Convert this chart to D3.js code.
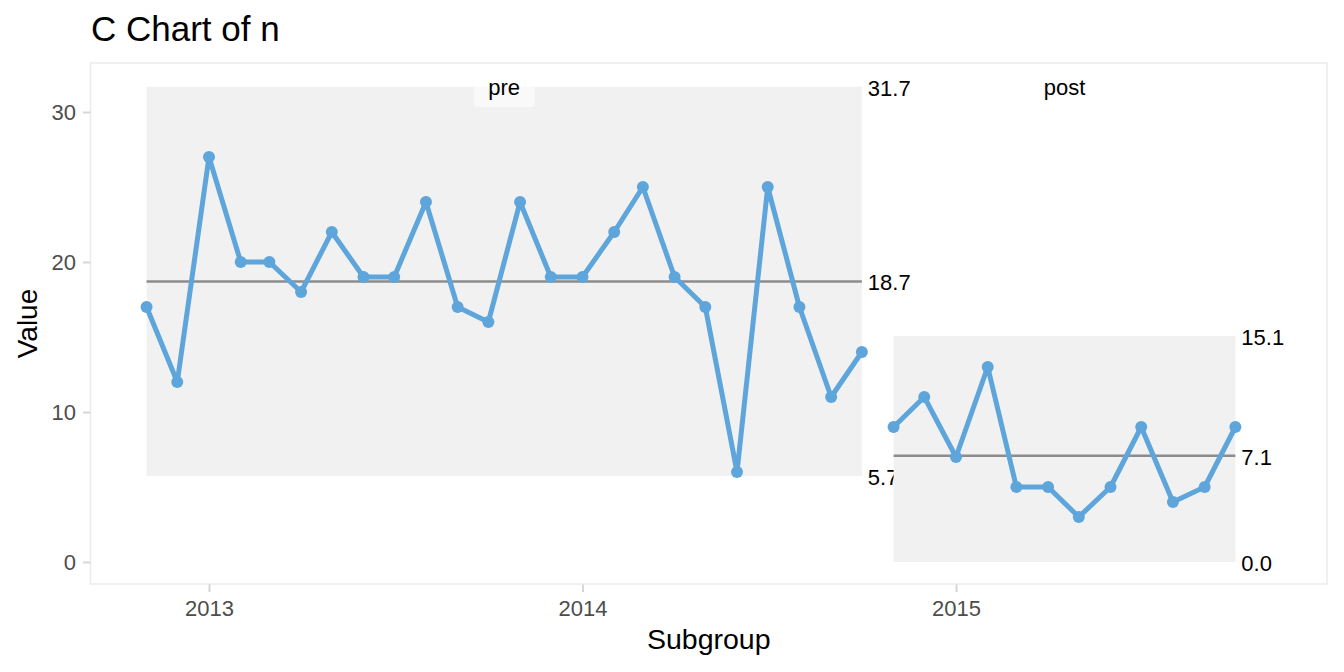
<!DOCTYPE html>
<html>
<head>
<meta charset="utf-8">
<script src="https://cdn.jsdelivr.net/npm/d3@7"></script>
<style>
  body { margin: 0; background: #fff; }
  text { font-family: "Liberation Sans", Arial, sans-serif; }
</style>
</head>
<body>
<script>
const W = 1344, H = 672;

// monthly counts, Nov 2012 - Oct 2015
const preMonths = ["2012-11","2012-12","2013-01","2013-02","2013-03","2013-04","2013-05","2013-06",
  "2013-07","2013-08","2013-09","2013-10","2013-11","2013-12","2014-01","2014-02","2014-03","2014-04",
  "2014-05","2014-06","2014-07","2014-08","2014-09","2014-10"];
const preValues = [17,12,27,20,20,18,22,19,19,24,17,16,24,19,19,22,25,19,17,6,25,17,11,14];
const postMonths = ["2014-11","2014-12","2015-01","2015-02","2015-03","2015-04","2015-05","2015-06",
  "2015-07","2015-08","2015-09","2015-10"];
const postValues = [9,11,7,13,5,5,3,5,9,4,5,9];
const yTicks = [0, 10, 20, 30];
const xTicks = ["2013-01","2014-01","2015-01"];

const parse = d3.timeParse("%Y-%m");

// panel box
const panel = {left: 90.5, right: 1327, top: 63, bottom: 584};

var x = d3.scaleTime()
    .domain([parse("2013-01"), parse("2015-01")])
    .range([209, 956]);   // extrapolates outside
var y = d3.scaleLinear().domain([0, 30]).range([562, 112]);

var svg = d3.select("body").append("svg")
    .attr("width", W).attr("height", H);

// c-chart limits for one part
function limits(vals) {
    var cl = d3.mean(vals);
    var s = Math.sqrt(cl);
    return {cl: cl, ucl: cl + 3 * s, lcl: Math.max(0, cl - 3 * s)};
}

var parts = [
    {name: "pre", dates: preMonths.map(parse), values: preValues},
    {name: "post", dates: postMonths.map(parse), values: postValues}
];
parts.forEach(p => { Object.assign(p, limits(p.values)); });

// title
svg.append("text")
    .attr("x", 91).attr("y", 41)
    .attr("font-size", 35).attr("fill", "#000")
    .text("C Chart of n");

// panel border
svg.append("rect")
    .attr("x", panel.left).attr("y", panel.top)
    .attr("width", panel.right - panel.left).attr("height", panel.bottom - panel.top)
    .attr("fill", "none").attr("stroke", "#ebebeb").attr("stroke-width", 1.5);

// axes
var yAxis = d3.axisLeft(y).tickValues(yTicks).tickSize(7.5).tickPadding(7);
var gy = svg.append("g").attr("transform", "translate(" + panel.left + ",0)").call(yAxis);

var xAxis = d3.axisBottom(x).tickValues(xTicks.map(parse))
    .tickFormat(d3.timeFormat("%Y")).tickSize(7.5).tickPadding(8);
var gx = svg.append("g").attr("transform", "translate(0," + (panel.bottom + 0.5) + ")").call(xAxis);

[gx, gy].forEach(g => {
    g.select(".domain").remove();
    g.selectAll(".tick line").attr("stroke", "#d6d6d6").attr("stroke-width", 2);
    g.selectAll(".tick text").attr("font-size", 22).attr("fill", "#4d4d4d")
        .attr("font-family", "'Liberation Sans', Arial, sans-serif");
});

svg.append("text")
    .attr("transform", "translate(37," + ((panel.top + panel.bottom) / 2) + ") rotate(-90)")
    .attr("text-anchor", "middle").attr("font-size", 28)
    .text("Value");
svg.append("text")
    .attr("x", (panel.left + panel.right) / 2).attr("y", 649)
    .attr("text-anchor", "middle").attr("font-size", 28.5)
    .text("Subgroup");

var line = d3.line().x(d => x(d[0])).y(d => y(d[1]));
var fmt = d3.format(".1f");

parts.forEach(p => {
    var x0 = x(p.dates[0]), x1 = x(p.dates[p.dates.length - 1]);

    // control limit band
    svg.append("rect")
        .attr("x", x0).attr("y", y(p.ucl))
        .attr("width", x1 - x0).attr("height", y(p.lcl) - y(p.ucl))
        .attr("fill", "#f1f1f1");

    // centre line
    svg.append("line")
        .attr("x1", x0).attr("x2", x1)
        .attr("y1", y(p.cl)).attr("y2", y(p.cl))
        .attr("stroke", "#8c8c8c").attr("stroke-width", 2.5);

    // limit labels
    [p.ucl, p.cl, p.lcl].forEach(v => {
        svg.append("text")
            .attr("x", x1 + 6).attr("y", y(v))
            .attr("dy", "0.4em").attr("font-size", 22).attr("fill", "#000")
            .text(fmt(v));
    });

    // part label
    var mx = (x0 + x1) / 2;
    svg.append("rect")
        .attr("x", mx - 30.5).attr("y", 68)
        .attr("width", 61).attr("height", 39)
        .attr("rx", 4)
        .attr("fill", "#fff").attr("fill-opacity", 0.55);
    svg.append("text")
        .attr("x", mx).attr("y", 87).attr("dy", "0.35em")
        .attr("text-anchor", "middle").attr("font-size", 22).attr("fill", "#000")
        .text(p.name);

    // data
    var pts = p.dates.map((d, i) => [d, p.values[i]]);
    svg.append("path")
        .datum(pts)
        .attr("d", line)
        .attr("fill", "none").attr("stroke", "#5DA5DA")
        .attr("stroke-width", 5).attr("stroke-linejoin", "round");
    svg.selectAll(null).data(pts).enter().append("circle")
        .attr("cx", d => x(d[0])).attr("cy", d => y(d[1]))
        .attr("r", 6).attr("fill", "#5DA5DA");
});
</script>
</body>
</html>
